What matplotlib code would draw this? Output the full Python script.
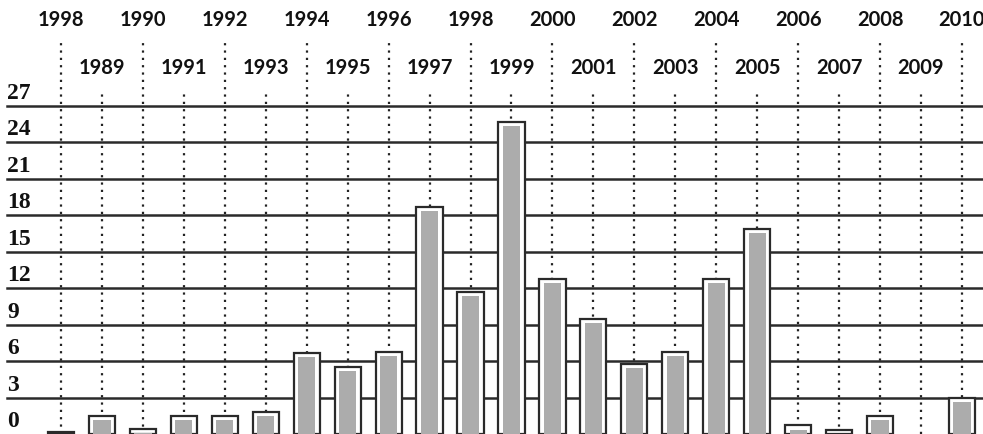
import matplotlib
matplotlib.use("Agg")
import matplotlib.pyplot as plt
import matplotlib.transforms as mtransforms

# years along the x axis (one column per year)
years = list(range(1988, 2011))
# labels printed above the columns (first one reads 1998 in the original)
year_labels = ["1998", "1989", "1990", "1991", "1992", "1993", "1994", "1995",
               "1996", "1997", "1998", "1999", "2000", "2001", "2002", "2003",
               "2004", "2005", "2006", "2007", "2008", "2009", "2010"]
# bar heights
values = [0.2, 1.5, 0.4, 1.5, 1.5, 1.8, 6.7, 5.5, 6.75, 18.7, 11.7, 25.7,
          12.75, 9.5, 5.75, 6.75, 12.75, 16.9, 0.7, 0.35, 1.5, 0, 3.0]
# y axis gridlines / labels
y_ticks = [0, 3, 6, 9, 12, 15, 18, 21, 24, 27]

plt.rcParams["hatch.color"] = "#707070"
plt.rcParams["hatch.linewidth"] = 1.2

fig = plt.figure(figsize=(9.83, 4.35), dpi=100)
ax = fig.add_axes([0, 0, 1, 1])
ax.set_xlim(1986.51, 2010.515)
ax.set_ylim(0, 35.8)
ax.axis("off")

# horizontal solid lines with the labels sitting on them
trans = mtransforms.blended_transform_factory(ax.transAxes, ax.transData)
for t in y_ticks:
    if t > 0:
        ax.axhline(t, xmin=0.007, xmax=1, color="#2a2a2a", lw=1.8, zorder=1)
    ax.text(0.007, t + 0.25, str(t), transform=trans, ha="left", va="bottom",
            fontsize=17, fontweight="bold", family="Liberation Serif",
            color="#111111")

# dotted verticals and staggered year labels
for i, (yr, lab) in enumerate(zip(years, year_labels)):
    top = 32.3 if i % 2 == 0 else 28.2
    ax.vlines(yr, 0, top, colors="#222222", lw=1.6,
              linestyles=(0, (1, 2.3)), zorder=1)
    ty = 34.15 if i % 2 == 0 else 30.2
    ax.text(yr, ty, lab, ha="center", va="center", fontsize=14.5,
            family="Lato", fontweight="bold", color="#111111")

# bars: white box with dark outline and stippled grey core (skip empty years)
bx = [y for y, v in zip(years, values) if v > 0]
bv = [v for v in values if v > 0]
ax.bar(bx, bv, width=0.64, color="white", edgecolor="#2a2a2a",
       linewidth=1.6, zorder=3)
inner = [max(v - 0.35, 0) for v in bv]
ax.bar(bx, inner, width=0.42, color="#acacac", edgecolor="none",
       hatch="....", zorder=4)

fig.savefig("out.png", dpi=100)
